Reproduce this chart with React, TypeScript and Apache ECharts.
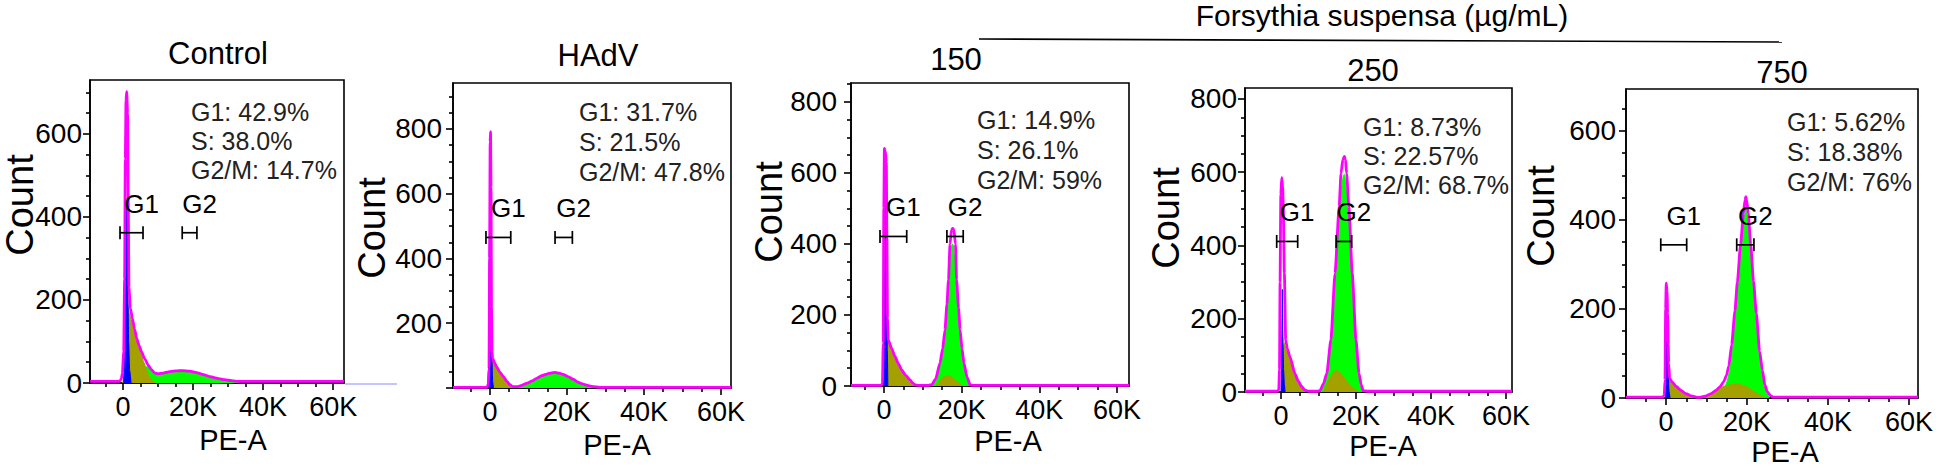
import React, { useEffect, useRef } from 'react';
import * as echarts from 'echarts';

type Pt = [number, number];
type Gate = [string, number, number, number];

const FONT = "'Liberation Sans', Arial, Helvetica, sans-serif";

const panelTitles = ['Control', 'HAdV', '150', '250', '750'];
const groupTitle = 'Forsythia suspensa (µg/mL)';
const xAxisName = 'PE-A';
const yAxisName = 'Count';
const xLabelValues = [0, 20, 40, 60]; // thousands
const xMinorTickValues = [-5, 5, 10, 15, 25, 30, 35, 45, 50, 55];

// ---------- Control ----------
const controlStats = ['G1: 42.9%', 'S: 38.0%', 'G2/M: 14.7%'];
const controlYLabels = [0, 200, 400, 600];
const controlTotal: Pt[] = [[-9.4,4],[-1.2,4],[-0.86,5],[-0.5,10],[-0.19,23],[0.19,75],[0.45,250],[0.65,540],[0.85,680],[1.05,702],[1.3,650],[1.5,420],[1.7,230],[2.1,180],[2.67,156],[3.3,130],[3.9,108],[4.6,90],[5.3,75],[6.2,58],[7.2,43],[8.1,32],[9.1,24],[10,22],[11.5,24],[13,27],[15,29],[17,30],[19,28.5],[21,25],[23,20],[25,15],[27,11],[29,8],[31,5.5],[33,4],[63.1,4]];
const controlGreen: Pt[] = [[6,0],[6.6,40],[7.2,43],[8.1,32],[9.1,24],[10,22],[11.5,24],[13,27],[15,29],[17,30],[19,28.5],[21,25],[23,20],[25,15],[27,11],[29,8],[31,5.5],[32.5,3],[33.5,0]];
const controlOlive: Pt[] = [[-0.2,0],[0.3,30],[0.7,120],[1.1,196],[1.5,185],[2.0,165],[2.67,150],[3.3,126],[3.9,104],[4.6,86],[5.3,70],[6.2,48],[7.0,28],[7.8,14],[8.6,5],[9.5,0]];
const controlBlue: Pt[] = [[0.2,0],[0.55,80],[0.8,260],[1.0,440],[1.2,420],[1.4,220],[1.6,100],[1.9,30],[2.3,0]];
const controlGates: Gate[] = [['G1', -0.86, 5.71, 362], ['G2', 16.9, 21.1, 362]];

// ---------- HAdV ----------
const hadvStats = ['G1: 31.7%', 'S: 21.5%', 'G2/M: 47.8%'];
const hadvYLabels = [200, 400, 600, 800];
const hadvTotal: Pt[] = [[-9.6,2],[-0.9,2],[-0.7,4],[-0.45,12],[-0.25,60],[-0.1,400],[0.05,760],[0.15,792],[0.28,620],[0.4,250],[0.55,110],[0.7,92],[1.2,78],[1.7,66],[2.5,50],[3.5,35],[4.3,22],[5.2,10],[6.0,4],[7,4],[8,7],[9.5,14],[11,22],[12.1,30],[13.5,38],[14.7,43],[16,47],[16.9,48],[18,46],[19,42],[20.3,35],[21.6,27],[23,17],[24.2,12],[25.1,9],[26.5,5],[28.6,2],[62.6,2]];
const hadvGreen: Pt[] = [[5.8,0],[6.5,3],[8,7],[9.5,14],[11,22],[12.1,30],[13.5,38],[14.7,43],[16,47],[16.9,48],[18,46],[19,42],[20.3,35],[21.6,27],[23,17],[24.2,12],[25.1,9],[26.5,5],[28,2],[29,0]];
const hadvOlive: Pt[] = [[0.1,0],[0.3,70],[0.5,88],[0.7,88],[1.2,76],[1.7,64],[2.5,48],[3.5,33],[4.3,20],[5.2,8],[6,2],[6.5,0]];
const hadvBlue: Pt[] = [[-0.55,0],[-0.35,60],[-0.15,450],[0.05,760],[0.2,700],[0.35,280],[0.5,90],[0.7,20],[0.9,0]];
const hadvGates: Gate[] = [['G1', -1.04, 5.4, 465], ['G2', 16.9, 21.4, 465]];

// ---------- 150 µg/mL ----------
const p150Stats = ['G1: 14.9%', 'S: 26.1%', 'G2/M: 59%'];
const p150YLabels = [0, 200, 400, 600, 800];
const p150Total: Pt[] = [[-8.5,2],[-0.7,2],[-0.4,8],[-0.2,120],[-0.05,500],[0.1,669],[0.35,662],[0.6,630],[0.75,420],[0.9,190],[1.1,130],[2,105],[2.84,83],[3.7,63],[4.56,45],[5.6,30],[6.7,17],[7.4,8],[8.0,3],[9,2],[11.5,2],[12.3,4],[13.3,20],[14.4,64],[15.1,105],[15.7,158],[16.2,230],[16.6,299],[17.0,400],[17.4,440],[17.7,444],[18.0,440],[18.4,400],[18.7,299],[19.2,220],[19.6,158],[20.1,105],[20.6,64],[21.4,25],[22.2,3],[23,2],[63.1,2]];
const p150Green: Pt[] = [[12.4,0],[13.3,18],[14.4,60],[15.1,100],[15.7,152],[16.2,222],[16.6,290],[17.0,370],[17.4,398],[17.7,402],[18.0,395],[18.4,360],[18.7,290],[19.2,214],[19.6,152],[20.1,100],[20.6,60],[21.4,22],[22.1,0]];
const p150Olive: Pt[] = [[0.35,0],[0.55,100],[0.85,134],[1.1,127],[2,100],[2.84,80],[3.7,60],[4.56,42],[5.6,27],[6.7,13],[7.5,4],[8.2,0],[13.1,0],[14,10],[15,24],[16.2,31],[17,29],[18,22],[19,13],[19.8,5],[20.4,0]];
const p150Blue: Pt[] = [[-0.1,0],[0.1,250],[0.3,560],[0.5,560],[0.7,300],[0.85,100],[1.0,0]];
const p150Gates: Gate[] = [['G1', -1.03, 5.85, 421], ['G2', 16.2, 20.4, 421]];

// ---------- 250 µg/mL ----------
const p250Stats = ['G1: 8.73%', 'S: 22.57%', 'G2/M: 68.7%'];
const p250YLabels = [0, 200, 400, 600, 800];
const p250Total: Pt[] = [[-9.6,2],[-1,2],[-0.6,6],[-0.4,60],[-0.25,300],[-0.05,540],[0.2,585],[0.45,560],[0.6,506],[0.9,324],[1.25,142],[1.7,118],[2.4,96],[3.7,51],[4.6,30],[5.5,15],[6.4,5],[7.5,2],[9.8,2],[10.4,4],[11.3,22],[12.2,51],[13.3,142],[14.4,324],[15.5,506],[16,597],[16.5,635],[16.9,643],[17.2,635],[17.5,597],[18.1,506],[19,324],[20,142],[20.8,51],[21.4,20],[21.9,4],[23,2],[61.6,2]];
const p250Green: Pt[] = [[10.5,0],[11.3,18],[12.2,46],[13.3,132],[14.4,310],[15.5,480],[16,560],[16.5,590],[16.9,597],[17.2,585],[17.5,555],[18.1,480],[19,310],[20,132],[20.8,46],[21.4,16],[21.8,0]];
const p250Olive: Pt[] = [[0,0],[0.3,60],[0.6,130],[0.9,137],[1.25,125],[1.7,112],[2.4,92],[3.7,48],[4.6,27],[5.5,12],[6.4,3],[7,0],[11.2,0],[12,20],[13,40],[14,55],[14.9,60],[16,52],[17,38],[18,25],[19,14],[20,6],[20.8,0]];
const p250Blue: Pt[] = [[0,0],[0.2,120],[0.35,280],[0.5,150],[0.7,60],[0.9,20],[1.1,0]];
const p250Gates: Gate[] = [['G1', -1.15, 4.45, 411], ['G2', 14.7, 18.85, 411]];

// ---------- 750 µg/mL ----------
const p750Stats = ['G1: 5.62%', 'S: 18.38%', 'G2/M: 76%'];
const p750YLabels = [0, 200, 400, 600];
const p750Total: Pt[] = [[-9.9,2],[-0.8,2],[-0.45,6],[-0.25,40],[-0.1,200],[0.05,258],[0.25,240],[0.4,190],[0.55,120],[0.65,78],[0.9,44],[1.5,36],[2.5,26],[3.7,17],[4.9,10],[6.5,4],[8,1.5],[9.7,4],[11.1,10],[12.3,17],[13.3,25],[14.2,36],[14.9,50],[15.5,72],[16.2,120],[17,195],[17.6,260],[18.4,345],[19.1,415],[19.5,445],[19.7,452],[19.9,445],[20.3,415],[20.9,345],[21.6,262],[22.3,190],[23.1,105],[23.8,62],[24.4,30],[25,14],[25.8,5],[26.5,2],[62.2,2]];
const p750Green: Pt[] = [[13.6,0],[14.2,18],[14.9,36],[15.5,58],[16.2,105],[17,180],[17.6,245],[18.4,330],[19.1,400],[19.5,425],[19.7,430],[19.9,422],[20.3,398],[20.9,330],[21.6,248],[22.3,176],[23.1,95],[23.8,55],[24.4,26],[25,10],[25.6,0]];
const p750Olive: Pt[] = [[-0.2,0],[0,20],[0.2,35],[0.5,42],[0.9,40],[1.5,34],[2.5,24],[3.7,15],[4.9,9],[6.5,3],[8,0.5],[9.7,3],[11.1,9],[12.3,16],[13.3,23],[14.5,28],[16,31],[17.4,33],[18.5,31],[19.5,28],[20.5,23],[21.5,17],[22.5,11],[23.5,6],[24.5,2],[25.3,0]];
const p750Blue: Pt[] = [[-0.2,0],[-0.05,80],[0.1,165],[0.3,130],[0.5,60],[0.75,15],[1,0]];
const p750Gates: Gate[] = [['G1', -1.3, 5.1, 344], ['G2', 17.45, 21.7, 344]];

const COLORS = { total: '#ff00ff', green: '#00ff00', olive: '#a3a000', blue: '#0000ff' };

interface Panel {
  box: [number, number, number, number];
  xMin: number; xMax: number; yMax: number;
  yLabels: number[]; yMargin: number;
  total: Pt[]; green: Pt[]; olive: Pt[]; blue: Pt[]; gates: Gate[]; stats: string[];
  titlePos: [number, number]; countPos: [number, number]; pePos: [number, number]; statsPos: [number, number, number];
}

const panels: Panel[] = [
  { box: [90, 80, 254, 303], xMin: -9.43, xMax: 63.1, yMax: 730, yLabels: controlYLabels, yMargin: 8,
    total: controlTotal, green: controlGreen, olive: controlOlive, blue: controlBlue, gates: controlGates, stats: controlStats,
    titlePos: [218, 53], countPos: [20, 205], pePos: [233, 440], statsPos: [191, 112, 29] },
  { box: [453, 83, 278, 305], xMin: -9.6, xMax: 62.6, yMax: 942, yLabels: hadvYLabels, yMargin: 11,
    total: hadvTotal, green: hadvGreen, olive: hadvOlive, blue: hadvBlue, gates: hadvGates, stats: hadvStats,
    titlePos: [598, 55], countPos: [372, 228], pePos: [617, 445], statsPos: [579, 112, 30] },
  { box: [851, 83, 278, 303], xMin: -8.5, xMax: 63.1, yMax: 853, yLabels: p150YLabels, yMargin: 14,
    total: p150Total, green: p150Green, olive: p150Olive, blue: p150Blue, gates: p150Gates, stats: p150Stats,
    titlePos: [956, 59], countPos: [769, 212], pePos: [1008, 441], statsPos: [977, 120, 30] },
  { box: [1245, 88, 267, 304], xMin: -9.6, xMax: 61.6, yMax: 830, yLabels: p250YLabels, yMargin: 8,
    total: p250Total, green: p250Green, olive: p250Olive, blue: p250Blue, gates: p250Gates, stats: p250Stats,
    titlePos: [1373, 70], countPos: [1166, 218], pePos: [1383, 446], statsPos: [1363, 127, 29] },
  { box: [1626, 89, 292, 309], xMin: -9.88, xMax: 62.2, yMax: 694, yLabels: p750YLabels, yMargin: 10,
    total: p750Total, green: p750Green, olive: p750Olive, blue: p750Blue, gates: p750Gates, stats: p750Stats,
    titlePos: [1782, 72], countPos: [1541, 216], pePos: [1785, 452], statsPos: [1787, 122, 30] },
];

function buildOption(): any {
  const grid: any[] = [];
  const xAxis: any[] = [];
  const yAxis: any[] = [];
  const series: any[] = [];
  const graphic: any[] = [];
  const black = { color: '#000', width: 1.6 };

  panels.forEach((p, i) => {
    grid.push({ left: p.box[0], top: p.box[1], width: p.box[2], height: p.box[3], show: true,
      borderColor: '#000', borderWidth: 1.6, backgroundColor: 'transparent' });
    xAxis.push({ gridIndex: i, type: 'value', min: p.xMin, max: p.xMax, position: 'bottom',
      axisLine: { show: true, onZero: false, lineStyle: black },
      axisTick: { show: true, customValues: xLabelValues, length: 7, lineStyle: black },
      axisLabel: { show: true, customValues: xLabelValues, formatter: (v: number) => (v === 0 ? '0' : `${v}K`),
        fontSize: 27, color: '#000', fontFamily: FONT, margin: 10 },
      splitLine: { show: false } });
    xAxis.push({ gridIndex: i, type: 'value', min: p.xMin, max: p.xMax, position: 'bottom',
      axisLine: { show: false, onZero: false },
      axisTick: { show: true, customValues: xMinorTickValues.filter(v => v > p.xMin && v < p.xMax), length: 4, lineStyle: black },
      axisLabel: { show: false }, splitLine: { show: false } });
    const minor: number[] = [];
    for (let v = 50; v < p.yMax; v += 50) if (v % 200 !== 0) minor.push(v);
    const major: number[] = [];
    for (let v = 0; v < p.yMax; v += 200) major.push(v);
    yAxis.push({ gridIndex: i, type: 'value', min: 0, max: p.yMax, position: 'left',
      axisLine: { show: true, onZero: false, lineStyle: black },
      axisTick: { show: true, customValues: major, length: 7, lineStyle: black },
      axisLabel: { show: true, customValues: p.yLabels, fontSize: 28, color: '#000', fontFamily: FONT, margin: p.yMargin },
      splitLine: { show: false } });
    yAxis.push({ gridIndex: i, type: 'value', min: 0, max: p.yMax, position: 'left',
      axisLine: { show: false, onZero: false },
      axisTick: { show: true, customValues: minor, length: 4, lineStyle: black },
      axisLabel: { show: false }, splitLine: { show: false } });

    const ax = { xAxisIndex: 2 * i, yAxisIndex: 2 * i };
    const area = (name: string, data: Pt[], color: string, z: number) => ({
      ...ax, name, type: 'line', data, showSymbol: false, symbol: 'none', smooth: 0.2, smoothMonotone: 'x',
      lineStyle: { width: name === 'blue' ? 1 : 0, color }, areaStyle: { color, opacity: 1 }, z, silent: true,
    });
    series.push(area('green', p.green, COLORS.green, 2));
    series.push(area('olive', p.olive, COLORS.olive, 3));
    series.push(area('blue', p.blue, COLORS.blue, 4));
    series.push({ ...ax, name: 'total', type: 'line', data: p.total, showSymbol: false, symbol: 'none',
      smooth: 0.2, smoothMonotone: 'x', lineStyle: { width: 2.8, color: COLORS.total }, z: 5, silent: true });
    const gates = p.gates;
    series.push({ ...ax, type: 'custom', z: 6, silent: true, clip: false,
      data: gates.map(g => [g[1], g[2], g[3]]),
      encode: { x: [0, 1], y: 2 },
      renderItem: (params: any, api: any) => {
        const g = gates[params.dataIndex];
        const a = api.coord([api.value(0), api.value(2)]);
        const b = api.coord([api.value(1), api.value(2)]);
        const st = { stroke: '#000', lineWidth: 1.7 };
        return { type: 'group', children: [
          { type: 'line', shape: { x1: a[0], y1: a[1], x2: b[0], y2: b[1] }, style: st },
          { type: 'line', shape: { x1: a[0], y1: a[1] - 6.5, x2: a[0], y2: a[1] + 6.5 }, style: st },
          { type: 'line', shape: { x1: b[0], y1: b[1] - 6.5, x2: b[0], y2: b[1] + 6.5 }, style: st },
          { type: 'text', style: { text: g[0], x: (a[0] + b[0]) / 2 + 10, y: a[1] - 29, align: 'center',
            verticalAlign: 'middle', fontSize: 26, fontFamily: FONT, fill: '#000' } },
        ] };
      } });

    graphic.push({ type: 'text', x: p.titlePos[0], y: p.titlePos[1], silent: true,
      style: { text: panelTitles[i], fontSize: 31, fontFamily: FONT, fill: '#000', align: 'center', verticalAlign: 'middle' } });
    graphic.push({ type: 'text', x: p.countPos[0], y: p.countPos[1], rotation: Math.PI / 2, silent: true,
      style: { text: yAxisName, fontSize: 38, fontFamily: FONT, fill: '#000', align: 'center', verticalAlign: 'middle' } });
    graphic.push({ type: 'text', x: p.pePos[0], y: p.pePos[1], silent: true,
      style: { text: xAxisName, fontSize: 29, fontFamily: FONT, fill: '#000', align: 'center', verticalAlign: 'middle' } });
    p.stats.forEach((s, k) => {
      graphic.push({ type: 'text', x: p.statsPos[0], y: p.statsPos[1] + k * p.statsPos[2], silent: true,
        style: { text: s, fontSize: 25, fontFamily: FONT, fill: '#222', align: 'left', verticalAlign: 'middle' } });
    });
  });

  graphic.push({ type: 'text', x: 1382, y: 15, silent: true,
    style: { text: groupTitle, fontSize: 30, fontFamily: FONT, fill: '#000', align: 'center', verticalAlign: 'middle' } });
  graphic.push({ type: 'line', silent: true, shape: { x1: 979, y1: 39, x2: 1782, y2: 42 }, style: { stroke: '#000', lineWidth: 1.6 } });
  graphic.push({ type: 'line', silent: true, shape: { x1: 345, y1: 384, x2: 397, y2: 384 }, style: { stroke: '#c4c4ff', lineWidth: 2 } });

  return { animation: false, backgroundColor: '#fff', grid, xAxis, yAxis, series, graphic };
}

export default function App() {
  const ref = useRef<HTMLDivElement>(null);
  useEffect(() => {
    if (!ref.current) return;
    const chart = echarts.init(ref.current, null, { renderer: 'svg' });
    chart.setOption(buildOption());
    return () => chart.dispose();
  }, []);
  return <div ref={ref} style={{ position: 'fixed', left: 0, top: 0, width: 1949, height: 469, background: '#fff' }} />;
}
